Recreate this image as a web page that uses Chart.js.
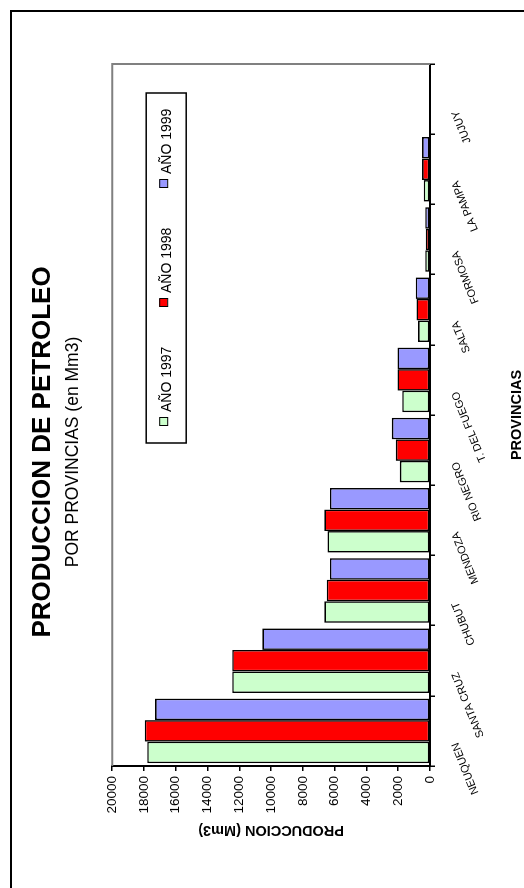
<!DOCTYPE html>
<html>
<head>
<meta charset="utf-8">
<script src="https://cdn.jsdelivr.net/npm/chart.js@4.4.0/dist/chart.umd.min.js"></script>
<style>
html, body { margin: 0; padding: 0; background: #fff; width: 524px; height: 888px; overflow: hidden; }
#frame { position: absolute; left: 10px; top: 10px; width: 600px; height: 1000px; border: 2px solid #000; }
/* the chart is laid out landscape and turned a quarter turn to the left */
#rot { position: absolute; left: 0; top: 888px; width: 872px; height: 530px; transform-origin: 0 0; transform: rotate(-90deg); }
</style>
</head>
<body>
<div id="frame"></div>
<div id="rot"><canvas id="myChart" width="872" height="530"></canvas></div>
<script>
const provincias = [
    'NEUQUEN',
    'SANTA CRUZ',
    'CHUBUT',
    'MENDOZA',
    'RIO NEGRO',
    'T. DEL FUEGO',
    'SALTA',
    'FORMOSA',
    'LA PAMPA',
    'JUJUY'
];

const anio1997 = [17800, 12450, 6650, 6450, 1900, 1750, 750, 300, 400, 0];
const anio1998 = [17950, 12450, 6500, 6650, 2150, 2050, 850, 270, 500, 0];
const anio1999 = [17300, 10550, 6300, 6300, 2400, 2050, 900, 300, 500, 0];

const seriesLabels = ['AÑO 1997', 'AÑO 1998', 'AÑO 1999'];
const seriesColors = ['#CCFFCC', '#FF0000', '#9999FF'];

Chart.defaults.font.family = "'Liberation Sans', Arial, sans-serif";
Chart.defaults.color = '#000';

// grey frame on the two open sides of the plot area
const plotFrame = {
    id: 'plotFrame',
    beforeDatasetsDraw(chart) {
        const {ctx, chartArea: a} = chart;
        ctx.save();
        ctx.strokeStyle = '#808080';
        ctx.lineWidth = 2;
        ctx.beginPath();
        ctx.moveTo(a.left, a.top);
        ctx.lineTo(a.right, a.top);
        ctx.lineTo(a.right, a.bottom);
        ctx.stroke();
        ctx.restore();
    }
};

// boxed legend sitting inside the plot area
const boxLegend = {
    id: 'boxLegend',
    afterDraw(chart) {
        const {ctx, chartArea: a} = chart;
        const x0 = a.left + 323, y0 = a.top + 34, w = 350, h = 40;
        ctx.save();
        ctx.fillStyle = '#fff';
        ctx.fillRect(x0, y0, w, h);
        ctx.strokeStyle = '#000';
        ctx.lineWidth = 1.5;
        ctx.strokeRect(x0, y0, w, h);
        ctx.font = "14px 'Liberation Sans', Arial, sans-serif";
        ctx.textBaseline = 'middle';
        chart.data.datasets.forEach((ds, i) => {
            const sx = x0 + 17 + i * 119;
            ctx.fillStyle = ds.backgroundColor;
            ctx.fillRect(sx, y0 + 13, 8, 8);
            ctx.lineWidth = 1;
            ctx.strokeRect(sx + 0.5, y0 + 13.5, 8, 8);
            ctx.fillStyle = '#000';
            ctx.fillText(ds.label, sx + 14, y0 + 21);
        });
        ctx.restore();
    }
};

const data = {
    labels: provincias,
    datasets: [anio1997, anio1998, anio1999].map((values, i) => ({
        label: seriesLabels[i],
        data: values,
        backgroundColor: seriesColors[i],
        borderColor: '#000',
        borderWidth: 1.6,
        borderSkipped: false,
        categoryPercentage: 0.92,
        barPercentage: 1.0
    }))
};

const config = {
    type: 'bar',
    data: data,
    options: {
        responsive: false,
        animation: false,
        devicePixelRatio: 1,
        layout: { padding: { left: 48, right: 48, top: 0, bottom: 0 } },
        plugins: {
            legend: { display: false },
            tooltip: { enabled: false },
            title: {
                display: true,
                text: 'PRODUCCION DE PETROLEO',
                font: { size: 26, weight: 'bold' },
                color: '#000',
                padding: { top: 27, bottom: 0 }
            },
            subtitle: {
                display: true,
                text: 'POR PROVINCIAS (en Mm3)',
                font: { size: 17.5 },
                color: '#000',
                padding: { top: 4, bottom: 29 }
            }
        },
        scales: {
            x: {
                grid: { offset: true, drawOnChartArea: false, tickLength: 5, color: '#000', lineWidth: 1.5 },
                border: { color: '#000', width: 2 },
                ticks: { autoSkip: false, minRotation: 22, maxRotation: 22, padding: 14, labelOffset: -12, font: { size: 11 } },
                title: { display: true, text: 'PROVINCIAS', font: { size: 14.5, weight: 'bold' }, padding: { top: 0, bottom: 4 } },
                afterFit(scale) { scale.height = 100; }
            },
            y: {
                min: 0,
                max: 20000,
                ticks: { stepSize: 2000, padding: 5, font: { size: 13.5 }, callback: (v) => String(v) },
                grid: { drawOnChartArea: false, tickLength: 5, color: '#000', lineWidth: 1.5 },
                border: { color: '#000', width: 2 },
                title: { display: true, text: 'PRODUCCION (Mm3)', font: { size: 14.5, weight: 'bold' }, padding: { top: 1, bottom: 0 } },
                afterFit(scale) { scale.width = 74; }
            }
        }
    },
    plugins: [plotFrame, boxLegend]
};

new Chart(
    document.getElementById('myChart'),
    config
);
</script>
</body>
</html>
